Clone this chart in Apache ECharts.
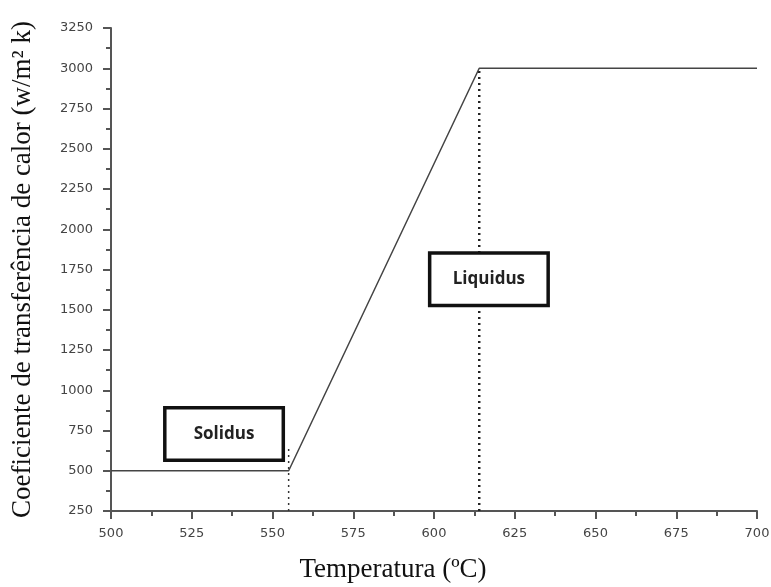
<!DOCTYPE html>
<html>
<head>
<meta charset="utf-8">
<script src="https://cdn.jsdelivr.net/npm/echarts@6/dist/echarts.min.js"></script>
<style>
  html, body { margin: 0; padding: 0; background: #fff; }
  #chart { width: 771px; height: 587px; }
</style>
</head>
<body>
<div id="chart"></div>
<script>
// Heat transfer coefficient versus temperature
const temperatures = [500, 555, 614, 700];
const coefficients = [500, 500, 3000, 3000];

// Phase limits (dotted guides)
const solidusTemp = 555;
const liquidusTemp = 614;
const solidusGuideTop = 660;
const liquidusGuideTop = 3000;

// Label boxes: [temperature, coefficient, text]
const phaseLabels = [
  [535, 728, 'Solidus'],
  [617, 1690, 'Liquidus']
];

const xTicks = { min: 500, max: 700, interval: 25 };
const yTicks = { min: 250, max: 3250, interval: 250 };

const chart = echarts.init(document.getElementById('chart'), null, { renderer: 'canvas' });

const axisColor = '#555';
const axisCommon = {
  axisLine: { show: true, lineStyle: { color: axisColor, width: 2 } },
  axisTick: { show: true, inside: false, length: 8, lineStyle: { color: axisColor, width: 2 } },
  minorTick: { show: true, splitNumber: 2, length: 5, lineStyle: { color: axisColor, width: 2 } },
  splitLine: { show: false },
  nameTextStyle: { color: '#111', fontFamily: 'Liberation Serif, Times New Roman, serif', fontSize: 27 }
};
const tickLabel = {
  color: '#444',
  fontFamily: 'DejaVu Sans, sans-serif',
  fontSize: 13,
  formatter: v => String(v)
};

chart.setOption({
  animation: false,
  backgroundColor: '#fff',
  grid: { left: 111, right: 14, top: 28, bottom: 76, containLabel: false, outerBoundsMode: 'none' },
  xAxis: Object.assign({}, axisCommon, {
    type: 'value',
    min: xTicks.min, max: xTicks.max, interval: xTicks.interval,
    name: 'Temperatura (ºC)',
    nameLocation: 'middle',
    nameGap: 45,
    nameTextStyle: Object.assign({}, axisCommon.nameTextStyle, { padding: [0, 82, 0, 0] }),
    axisLabel: Object.assign({}, tickLabel, { margin: 16 })
  }),
  yAxis: Object.assign({}, axisCommon, {
    type: 'value',
    min: yTicks.min, max: yTicks.max, interval: yTicks.interval,
    name: 'Coeficiente de transferência de calor (w/m\u00b2 k)',
    nameLocation: 'middle',
    nameGap: 75,
    axisLabel: Object.assign({}, tickLabel, { margin: 18 })
  }),
  series: [
    {
      type: 'line',
      data: [[solidusTemp, yTicks.min], [solidusTemp, solidusGuideTop]],
      symbol: 'none',
      lineStyle: { color: '#333', width: 1.5, type: [2, 4] },
      z: 2
    },
    {
      type: 'line',
      data: [[liquidusTemp, yTicks.min], [liquidusTemp, liquidusGuideTop]],
      symbol: 'none',
      lineStyle: { color: '#222', width: 2.5, type: [2, 4] },
      z: 2
    },
    {
      type: 'line',
      data: temperatures.map((t, i) => [t, coefficients[i]]),
      symbol: 'none',
      lineStyle: { color: '#444', width: 1.5 },
      z: 3
    },
    {
      type: 'scatter',
      data: phaseLabels.map(p => ({ value: [p[0], p[1]], name: p[2] })),
      symbolSize: 0,
      itemStyle: { opacity: 1 },
      emphasis: { disabled: true },
      label: {
        show: true,
        position: 'inside',
        formatter: p => p.name,
        color: '#222',
        textBorderWidth: 0,
        fontFamily: 'Open Sans, Noto Sans, sans-serif',
        fontWeight: 'bold',
        fontSize: 17,
        width: 115,
        height: 49,
        lineHeight: 49,
        align: 'center',
        verticalAlign: 'middle',
        backgroundColor: '#fff',
        borderColor: '#111',
        borderWidth: 3.5
      },
      z: 5
    }
  ]
});
</script>
</body>
</html>
